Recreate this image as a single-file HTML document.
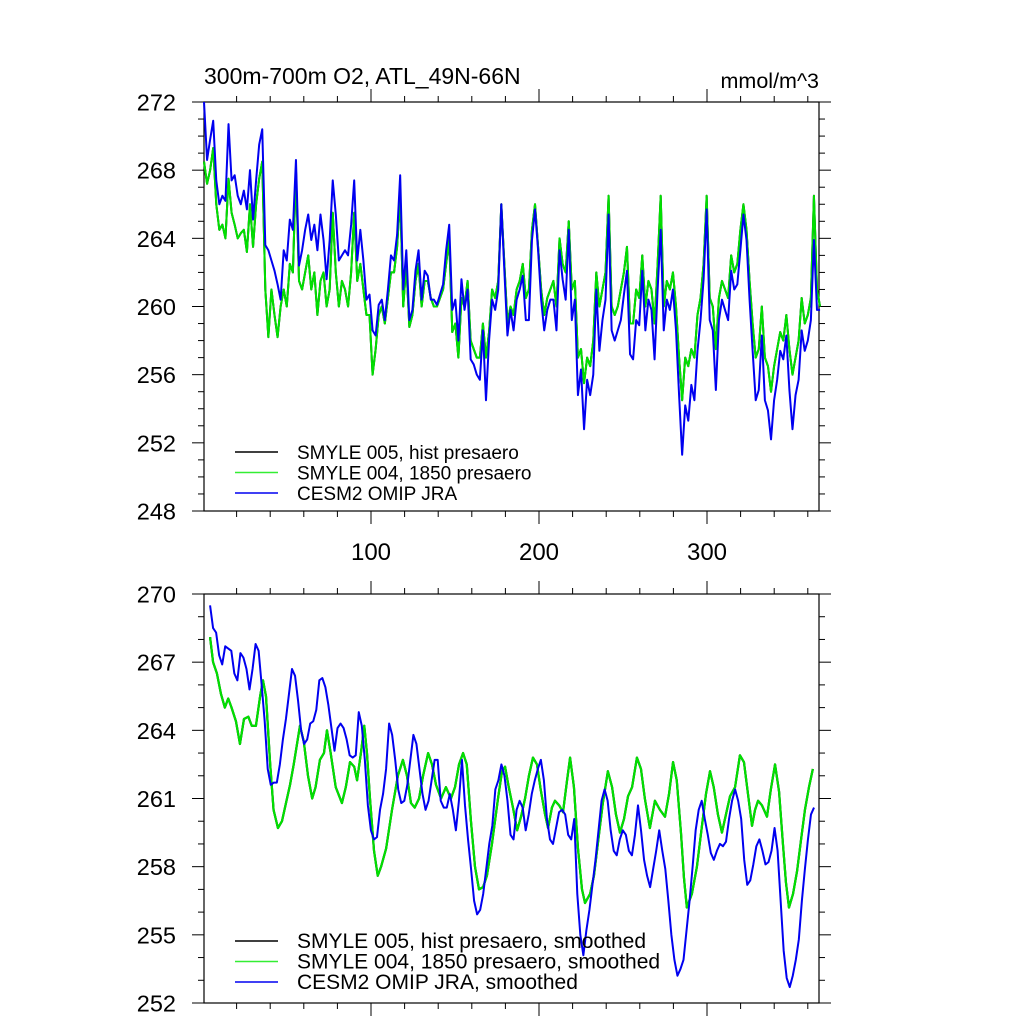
<!DOCTYPE html>
<html><head><meta charset="utf-8"><style>
html,body{margin:0;padding:0;background:#fff}
svg{display:block;font-family:"Liberation Sans",sans-serif}
</style></head><body>
<svg id="chart" width="1024" height="1024" viewBox="0 0 1024 1024" xmlns="http://www.w3.org/2000/svg">
<rect width="1024" height="1024" fill="#fff"/>
<g id="g"></g>
</svg>
<script>
// ---------- data ----------
const topYTicks = [248,252,256,260,264,268,272];
const botYTicks = [252,255,258,261,264,267,270];
const xTickLabels = [100,200,300];

const topBlue = [272.0,268.6,269.8,270.9,267.4,266.0,266.5,266.2,270.7,267.4,267.7,266.5,266.0,266.8,265.7,268.0,265.1,267.4,269.5,270.4,263.6,263.3,262.7,262.1,261.3,260.4,263.3,262.7,265.1,264.5,268.6,262.4,263.3,264.5,265.4,263.9,264.8,263.3,265.4,263.9,261.6,263.9,267.4,265.4,262.7,263.0,263.3,263.0,264.8,267.4,262.7,264.5,262.7,260.4,260.7,258.6,258.3,260.1,260.4,259.2,261.0,263.0,262.7,264.2,267.7,261.0,263.3,259.2,259.8,262.1,263.3,260.4,262.1,261.8,260.4,260.4,260.1,260.7,261.3,263.3,264.8,259.8,260.4,258.0,261.6,259.8,261.0,256.9,256.6,256.0,255.7,258.6,254.5,258.0,260.4,259.8,261.0,266.0,262.1,258.3,259.8,258.6,260.4,261.0,261.8,259.2,259.2,263.9,265.7,263.3,260.4,258.6,259.8,260.4,260.4,258.6,263.3,261.6,260.4,264.5,259.2,260.4,254.8,256.3,252.8,255.7,254.8,256.0,261.0,257.4,259.2,260.4,265.4,258.6,258.0,258.6,259.2,260.7,262.1,257.2,256.9,259.2,258.9,262.1,258.6,260.4,259.8,256.9,261.0,264.5,258.6,260.4,259.8,261.0,258.6,254.8,251.3,254.2,253.3,255.4,254.5,257.4,259.2,261.6,265.7,259.2,258.6,255.1,259.2,260.4,259.8,259.2,262.1,261.0,261.3,263.3,265.4,263.9,260.4,257.4,254.5,255.1,258.3,254.5,253.9,252.2,254.5,255.7,257.4,256.9,258.3,255.1,252.8,254.8,255.7,258.6,257.4,258.0,259.2,263.9,259.8,259.8];

const topGreen = [268.5,267.2,268.0,269.3,266.0,264.5,264.8,264.0,267.5,265.5,264.8,264.0,264.3,264.5,263.2,266.0,263.5,266.0,267.5,268.5,261.0,258.2,261.0,259.5,258.2,260.0,261.0,260.0,262.5,262.0,268.0,261.5,261.0,262.0,263.0,261.0,262.0,259.5,261.5,262.0,
260.0,261.0,265.5,262.0,260.0,261.5,261.0,260.0,262.0,265.5,261.5,262.5,261.0,259.5,259.5,256.0,
257.5,259.5,260.0,259.0,260.5,262.0,262.0,263.5,266.5,260.0,262.5,258.8,259.5,261.5,262.5,260.0,261.5,261.5,260.5,260.0,260.0,260.5,261.0,262.5,264.0,258.5,259.0,257.0,260.5,260.0,261.5,258.0,257.5,257.0,257.0,259.0,257.0,258.5,261.0,260.5,261.5,266.0,262.5,259.0,260.0,
259.5,261.0,261.5,262.5,260.5,261.0,264.5,266.0,263.5,261.0,259.5,260.5,261.0,261.5,260.0,264.0,262.5,262.0,265.0,261.0,261.5,257.0,257.5,255.5,257.0,256.5,258.0,262.0,260.0,261.0,262.0,266.5,260.0,259.5,260.0,261.0,262.0,263.5,259.0,259.0,261.0,260.5,263.0,260.0,261.5,261.0,259.0,262.5,266.5,260.0,261.5,261.0,262.0,260.0,257.0,254.5,257.0,256.5,257.5,257.0,259.5,260.5,262.5,266.5,260.5,260.0,257.5,260.5,261.5,261.0,260.5,263.0,262.0,262.5,264.5,266.0,264.5,261.5,259.0,257.0,257.5,260.0,257.0,256.5,255.0,256.5,257.5,258.5,258.0,259.5,257.5,256.0,257.0,258.0,260.5,259.0,259.5,260.5,266.5,261.0,260.0];

const botBlue = [269.5,268.5,268.3,267.3,266.9,267.7,267.6,267.5,266.5,266.2,267.4,267.2,266.7,265.8,266.7,267.8,267.5,266.0,264.4,262.3,261.6,261.7,261.7,262.5,263.6,264.5,265.6,266.7,266.4,265.3,264.0,263.4,263.6,264.3,264.4,264.9,266.2,266.3,265.9,265.1,264.1,263.1,264.1,264.3,264.1,263.6,262.9,262.8,262.9,264.8,264.2,262.7,260.7,259.6,259.2,259.3,260.5,261.2,262.3,264.3,263.8,262.7,261.4,260.8,260.9,261.6,262.7,263.8,263.4,262.3,261.2,260.5,260.9,261.8,262.7,262.7,260.9,260.6,260.6,261.2,260.5,259.6,260.9,262.7,260.7,259.2,257.9,256.5,255.9,256.1,256.8,257.9,259.0,259.8,261.4,261.8,262.5,262.0,260.9,259.4,259.2,260.5,260.9,260.6,259.6,260.3,261.2,261.8,262.3,262.7,261.8,260.1,259.2,259.0,259.7,260.4,260.5,260.3,259.4,259.2,260.1,256.8,255.0,254.1,255.2,256.1,257.2,258.3,259.6,260.9,261.4,260.9,259.6,258.7,258.5,259.2,259.6,259.4,258.7,258.5,259.4,260.7,259.6,258.3,257.6,257.1,257.9,258.7,259.6,258.7,257.9,256.5,255.0,253.9,253.2,253.5,253.9,255.2,256.5,258.0,259.6,260.5,260.9,260.1,259.4,258.6,258.3,258.7,259.0,258.9,259.1,260.1,260.9,261.4,260.9,260.1,258.3,257.2,257.4,258.1,258.9,259.2,258.7,258.1,258.2,258.7,259.7,258.7,256.5,254.3,253.1,252.7,253.2,253.9,254.8,256.5,257.9,259.2,260.3,260.6];

const botGreenX = [4.2,6,8.3,10.7,13,15,17,19.6,22,24.4,27,29,31.5,34,35.7,37.5,40,42,44.6,47,49.4,51.8,54,57.7,60,62.5,65,67,69.6,72,73.8,76,79,82.7,85,87.5,90,91.7,94,96,97.6,99.4,101.8,104,106,109,112.5,116,119,121.4,123.8,126,128.6,131,134,136.3,138.7,141.7,144.6,147.6,150,152.4,154.8,157,159.5,161.9,164.3,166.7,169,172,175.6,178,179.8,182,184.5,187,189.3,191.7,194,196.4,198.8,201,203.6,205.4,207.7,209.5,212,214.3,216.7,218.5,220.8,223.2,225.6,227.4,230.4,232.7,235,238,241,243.5,245.8,248.2,250.6,253,255.4,258.3,260.7,263,266,269,272,275,277.4,279.8,282,284.5,286.3,288,291,294,297,299.4,301.8,304,306.5,308.9,311.3,313.7,316.7,319.6,322,324.4,326.8,328.6,330.4,332.7,335.7,338,340.5,342.9,345.2,347,348.8,351.2,353.6,356,358.3,360.7,363];
const botGreen = [268.1,267.0,266.5,265.6,265.0,265.4,265.0,264.4,263.4,264.5,264.6,264.2,264.2,265.5,266.2,265.5,262.5,260.5,259.7,260.0,260.8,261.6,262.5,264.2,263.5,262.0,261.0,261.5,262.7,263.0,264.0,263.0,261.5,260.8,261.5,262.6,262.4,261.8,263.0,264.2,263.0,261.0,258.7,257.6,258.0,258.8,260.5,262.0,262.7,262.0,260.8,260.6,261.0,262.0,263.0,262.5,261.6,261.0,261.5,261.0,261.5,262.5,263.0,262.5,260.0,258.0,257.0,257.1,257.6,259.0,261.0,262.2,262.4,261.5,260.6,259.6,260.2,261.0,262.0,262.8,262.5,261.4,260.3,259.7,260.6,260.9,260.7,260.4,261.8,262.8,261.5,258.8,257.0,256.4,256.8,257.6,259.0,260.8,262.2,261.5,260.3,259.5,260.1,261.1,261.5,262.8,262.3,261.0,259.7,260.9,260.5,260.2,261.2,262.6,261.8,259.5,257.5,256.2,256.8,258.0,259.8,261.2,262.2,261.5,260.3,259.5,260.3,261.1,261.5,262.9,262.6,261.2,259.8,260.5,260.9,260.7,260.2,261.4,262.5,261.3,259.0,257.3,256.2,256.8,257.8,259.2,260.5,261.5,262.3];

// ---------- layout ----------
const L=204, R=819;
const xMonth = m => 203 + m*1.68;
const topY = v => 102 + (272-v)*(409/24);
const botY = v => 594 + (270-v)*(409/18);
const g = document.getElementById('g');
const NS='http://www.w3.org/2000/svg';
function mk(tag, attrs, parent){const e=document.createElementNS(NS,tag);for(const k in attrs)e.setAttribute(k,attrs[k]);(parent||g).appendChild(e);return e;}

function axes(T, B, yTicks, yFn, minorStep, name, showXLabels){
  const grp = mk('g',{});
  
  
  const box = mk('rect',{x:L,y:T,width:R-L,height:B-T,fill:'none',stroke:'#000','stroke-width':1.2},grp);
  
  
  const lo=yTicks[0], hi=yTicks[yTicks.length-1];
  for(let v=lo; v<=hi+0.001; v+=minorStep){
    const y=yFn(v); const major = yTicks.includes(Math.round(v));
    const len = major?12:6;
    mk('line',{x1:L-len,y1:y,x2:L,y2:y,stroke:'#000','stroke-width':1},grp);
    mk('line',{x1:R,y1:y,x2:R+len,y2:y,stroke:'#000','stroke-width':1},grp);
  }
  yTicks.forEach(v=>{
    const t = mk('text',{x:176,y:yFn(v)+8.5,'text-anchor':'end','font-size':23.5,fill:'#000'},grp);
    t.textContent = v;
    
    
  });
  for(let m=20; m<=360; m+=20){
    const x=xMonth(m); const major = m%100===0; const len=major?13:6;
    mk('line',{x1:x,y1:T-len,x2:x,y2:T,stroke:'#000','stroke-width':1},grp);
    mk('line',{x1:x,y1:B,x2:x,y2:B+len,stroke:'#000','stroke-width':1},grp);
  }
  if(showXLabels){
    xTickLabels.forEach(m=>{
      const t=mk('text',{x:xMonth(m),y:560,'text-anchor':'middle','font-size':24,fill:'#000'},grp);
      t.textContent=m;
      
      
    });
  }
}

function series(vals, xs, yFn, color, name, w){
  const pts = vals.map((v,i)=> xs[i].toFixed(2)+','+yFn(v).toFixed(2)).join(' ');
  const p = mk('polyline',{points:pts,fill:'none',stroke:color,'stroke-width':w||1.8,'stroke-linejoin':'round'});
  
  
}
function evenX(n, m0, m1){const a=[];for(let i=0;i<n;i++)a.push(xMonth(m0+(m1-m0)*i/(n-1)));return a;}

axes(102, 511, topYTicks, topY, 1, 'top', true);
axes(594, 1003, botYTicks, botY, 1, 'bottom', false);

const tGX = evenX(topGreen.length, 0.6, 367.3);
const tBX = evenX(topBlue.length, 0.6, 367.3);
series(topGreen, tGX, topY, '#000', 'top-smyle005-line', 2);
series(topGreen, tGX, topY, '#00e000', 'top-smyle004-line', 2);
series(topBlue, tBX, topY, '#0000f0', 'top-omip-line', 2);

const bGX = botGreenX.map(xMonth);
const bBX = evenX(botBlue.length, 4.2, 363.7);
series(botGreen, bGX, botY, '#000', 'bottom-smyle005-line', 2.2);
series(botGreen, bGX, botY, '#00e000', 'bottom-smyle004-line', 2.2);
series(botBlue, bBX, botY, '#0000f0', 'bottom-omip-line', 2);

let t = mk('text',{x:204,y:84,'font-size':23,fill:'#000'}); t.textContent='300m-700m O2, ATL_49N-66N';


t = mk('text',{x:819,y:88,'font-size':21.5,'text-anchor':'end',fill:'#000'}); t.textContent='mmol/m^3';



function legend(y0, labels, name, fs){
  const cols=['#000','#33ee33','#0000f0'];
  labels.forEach((lab,i)=>{
    const y=y0+i*20.5;
    const ln=mk('line',{x1:235,y1:y,x2:278,y2:y,stroke:cols[i],'stroke-width':1.6});
    
    
    const tx=mk('text',{x:297,y:y+7,'font-size':fs,fill:'#000'});
    tx.textContent=lab;
    
    
  });
}
legend(452,['SMYLE 005, hist presaero','SMYLE 004, 1850 presaero','CESM2 OMIP JRA'],'top',19);
legend(941,['SMYLE 005, hist presaero, smoothed','SMYLE 004, 1850 presaero, smoothed','CESM2 OMIP JRA, smoothed'],'bottom',21);
</script>
</body></html>
